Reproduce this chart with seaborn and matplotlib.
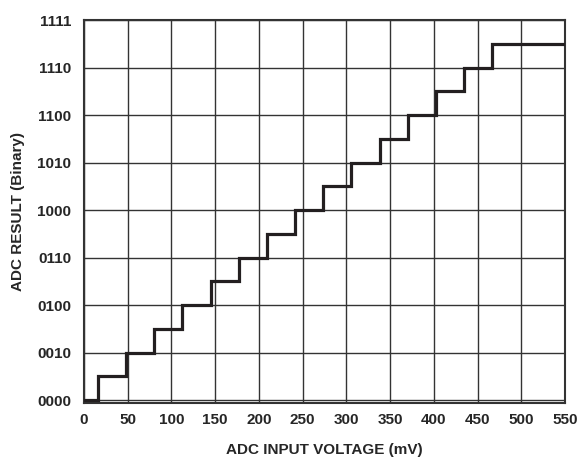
import matplotlib
matplotlib.use("Agg")
import matplotlib.pyplot as plt
import seaborn as sns
import pandas as pd

# Data
transitions_mv = [16, 48.5, 80.5, 112.5, 145, 177, 209, 241, 273, 305, 338, 370, 402, 434, 466]
x_start, x_end = 0, 550
codes = list(range(16))
x_ticks = [0, 50, 100, 150, 200, 250, 300, 350, 400, 450, 500, 550]
y_tick_pos = [0, 2, 4, 6, 8, 10, 12, 14, 16]
y_tick_labels = ["0000", "0010", "0100", "0110", "1000", "1010", "1100", "1110", "1111"]

sns.set_theme(style="white")
plt.rcParams["font.family"] = ["Liberation Sans", "DejaVu Sans"]

xs = [x_start] + transitions_mv + [x_end]
ys = codes + [codes[-1]]
df = pd.DataFrame({"mv": xs, "code": ys})

fig = plt.figure(figsize=(5.88, 4.65), dpi=100)
ax = fig.add_axes([84 / 588, 1 - 403 / 465, (565 - 84) / 588, (403 - 20) / 465])

ax.step(df["mv"], df["code"], where="post", color="#231f20", lw=2.3, solid_joinstyle="miter", zorder=3)

ax.set_xlim(0, 550)
ax.set_ylim(-0.12, 16)
ax.set_xticks(x_ticks)
ax.set_yticks(y_tick_pos)
ax.set_yticklabels(y_tick_labels)
ax.grid(True, color="#333333", lw=1.0)
ax.tick_params(axis="both", length=0, labelsize=11)
ax.tick_params(axis="x", pad=7)
ax.tick_params(axis="y", pad=9)
for lab in ax.get_xticklabels() + ax.get_yticklabels():
    lab.set_fontweight("bold")
for s in ax.spines.values():
    s.set_color("#333333")
    s.set_linewidth(1.5)

ax.set_xlabel("ADC INPUT VOLTAGE (mV)", fontsize=11, fontweight="bold", labelpad=12)
ax.set_ylabel("ADC RESULT (Binary)", fontsize=11, fontweight="bold", labelpad=9)

fig.savefig("out.png", dpi=100, facecolor="white")
